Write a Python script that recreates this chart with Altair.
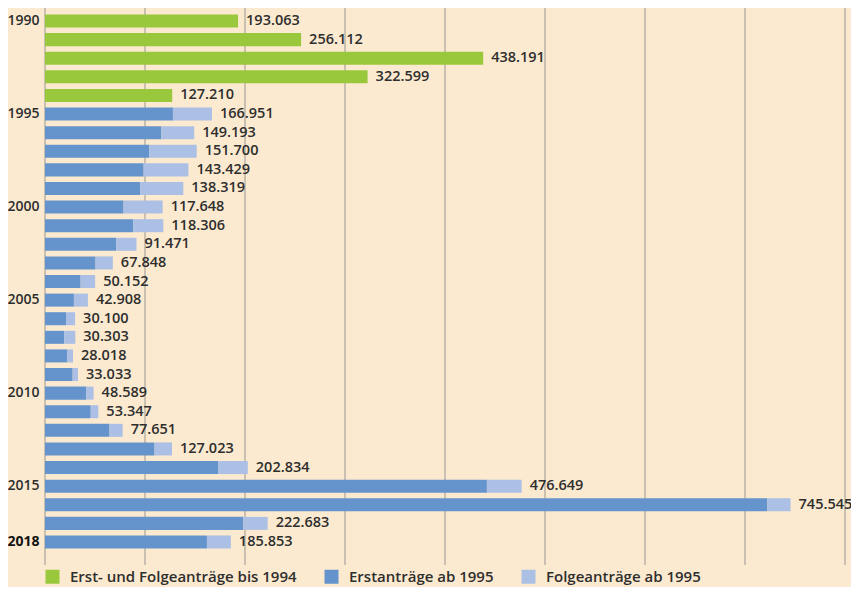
import altair as alt
import pandas as pd

years = list(range(1990, 2019))
bis_1994 = [193063, 256112, 438191, 322599, 127210]
erst_ab_1995 = [127937, 116367, 104353, 98644, 95113, 78564, 88287, 71127, 50563, 35607,
                28914, 21029, 19164, 22085, 27649, 41332, 45741, 64539, 109580, 173072,
                441899, 722370, 198317, 161931]
folge_ab_1995 = [39014, 32826, 47347, 44785, 43206, 39084, 30019, 20344, 17285, 14545,
                 13994, 9071, 11139, 5933, 5384, 7257, 7606, 13112, 17443, 29762,
                 34750, 23175, 24366, 23922]
series = ["Erst- und Folgeanträge bis 1994", "Erstanträge ab 1995", "Folgeanträge ab 1995"]
colors = ["#9ac83c", "#6593cc", "#abc0e4"]

rows = []
totals = []
for i, y in enumerate(years):
    if y < 1995:
        rows.append({"year": y, "series": series[0], "value": bis_1994[i], "order": 0})
        totals.append(bis_1994[i])
    else:
        j = y - 1995
        rows.append({"year": y, "series": series[1], "value": erst_ab_1995[j], "order": 1})
        rows.append({"year": y, "series": series[2], "value": folge_ab_1995[j], "order": 2})
        totals.append(erst_ab_1995[j] + folge_ab_1995[j])
df = pd.DataFrame(rows)
tot = pd.DataFrame({"year": years, "total": totals,
                    "label": [f"{t:,}".replace(",", ".") for t in totals]})

FONT = "Open Sans"
TXT = "#2e2e2e"

yenc = alt.Y("year:O", sort="ascending",
             scale=alt.Scale(paddingInner=0.3, paddingOuter=0.35),
             axis=alt.Axis(title=None, ticks=False, domain=False, grid=False,
                           labelExpr="datum.value % 5 == 0 || datum.value == 2018 ? datum.label : ''",
                           labelFont=FONT, labelFontSize=14,
                           labelFontWeight={"condition": {"test": "datum.value == 2018", "value": 700}, "value": 600},
                           labelColor={"condition": {"test": "datum.value == 2018", "value": "#111111"}, "value": TXT},
                           labelPadding=6))

xscale = alt.Scale(domain=[0, 800000], nice=False)

grid = alt.Chart(pd.DataFrame({"g": list(range(0, 800001, 100000))})).mark_rule(
    color="#b9b2a6", strokeWidth=1.5
).encode(x=alt.X("g:Q", scale=xscale, axis=None), y=alt.value(-1), y2=alt.value(557))

bars = alt.Chart(df).mark_bar().encode(
    y=yenc,
    x=alt.X("value:Q", scale=xscale, stack="zero", axis=None),
    color=alt.Color("series:N", scale=alt.Scale(domain=series, range=colors),
                    legend=alt.Legend(title=None, orient="none", direction="horizontal",
                                      legendX=0, legendY=561, symbolType="square",
                                      symbolSize=196, symbolStrokeWidth=0, symbolOpacity=1,
                                      labelFont=FONT, labelFontSize=15, labelFontWeight=600,
                                      labelColor=TXT, columnPadding=27, symbolOffset=0,
                                      labelOffset=10, padding=0, labelLimit=0)),
    order=alt.Order("order:Q"),
)

labels = alt.Chart(tot).mark_text(
    align="left", baseline="middle", dx=8, font=FONT, fontSize=14.5, fontWeight=600, color=TXT
).encode(y=alt.Y("year:O", sort="ascending"), x=alt.X("total:Q", scale=xscale), text="label:N")

chart = alt.layer(grid, bars, labels).properties(
    width=800, height=547,
    autosize=alt.AutoSizeParams(type="none"),
    padding={"left": 37, "top": 0, "right": 6, "bottom": 32},
    background="#fcead0",
).configure_view(stroke=None)

chart.save("out.html", embed_options={"renderer": "svg", "actions": False})
